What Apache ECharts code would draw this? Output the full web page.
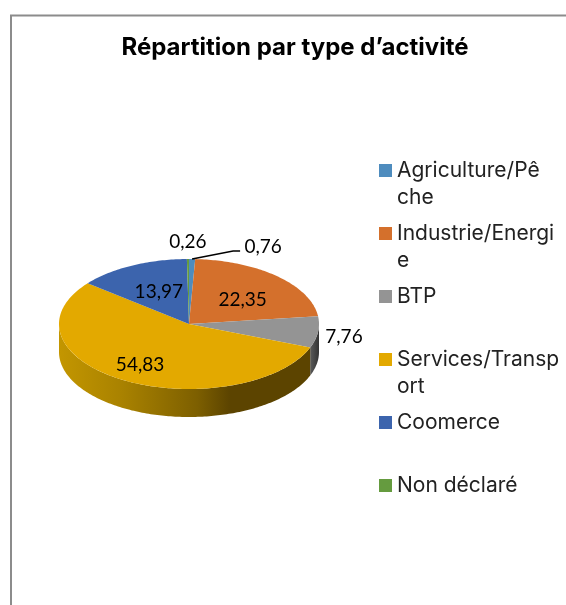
<!DOCTYPE html>
<html><head><meta charset="utf-8">
<style>html,body{margin:0;padding:0;background:#fff}#c{width:566px;height:605px}</style>
<script src="https://cdn.jsdelivr.net/npm/echarts@6/dist/echarts.min.js"></script>
</head><body><div id="c"></div>
<script>
const titleText = "Répartition par type d’activité";
const categories = ["Agriculture/Pêche","Industrie/Energie","BTP","Services/Transport","Coomerce","Non déclaré"];
const legendLines = [["Agriculture/Pê","che"],["Industrie/Energi","e"],["BTP",""],["Services/Transp","ort"],["Coomerce",""],["Non déclaré",""]];
const values = [0.76,22.35,7.76,54.83,13.97,0.26];
const colors = ["#4E8CBE","#D4702C","#949494","#E3A900","#3C64AD","#659B3F"];
const wallStops = [
  [[0,"#2f5f85"],[1,"#2f5f85"]],
  [[0,"#7a3f18"],[1,"#7a3f18"]],
  [[0,"#5a5a5a"],[1,"#333333"]],
  [[0,"#c39600"],[0.25,"#a98200"],[0.55,"#7d5f00"],[0.68,"#5c4400"],[1,"#5c4400"]],
  [[0,"#264070"],[1,"#264070"]],
  [[0,"#3f6227"],[1,"#3f6227"]]
];
const labelOffsets = [[71,-12],[-35,23],[26,5],[16,-15],[27,26],[0,-17]];
const pie = {cx:189, cy:324, rx:130, ry:65, depth:28};
const total = values.reduce((a,b)=>a+b,0);
const rad = d => d*Math.PI/180;
const rim = (deg,extra=0) => [pie.cx+pie.rx*Math.sin(rad(deg)), pie.cy-pie.ry*Math.cos(rad(deg))+extra];
function arc(a0,a1,extra=0){const pts=[];const n=Math.max(2,Math.ceil(a1-a0));for(let i=0;i<=n;i++)pts.push(rim(a0+(a1-a0)*i/n,extra));return pts;}

function makeSeries(idx){
  return {
    type:'custom', name:categories[idx], coordinateSystem:'none', clip:false,
    itemStyle:{color:colors[idx]}, silent:true,
    data:[[values[idx]]],
    renderItem(params,api){
      const before = values.slice(0,idx).reduce((a,b)=>a+b,0);
      const a0 = before/total*360, a1 = a0+api.value(0)/total*360, mid=(a0+a1)/2;
      const children=[];
      const w0=Math.max(a0,90), w1=Math.min(a1,270);
      if(w1>w0){
        const top=arc(w0,w1), bottom=arc(w0,w1,pie.depth).reverse();
        children.push({type:'polygon',shape:{points:top.concat(bottom)},
          style:{fill:new echarts.graphic.LinearGradient(0,0,1,0,wallStops[idx].map(s=>({offset:s[0],color:s[1]})))}});
      }
      children.push({type:'polygon',shape:{points:[[pie.cx,pie.cy]].concat(arc(a0,a1))},style:{fill:colors[idx]}});
      const p=rim(mid), off=labelOffsets[idx];
      if(idx===0){
        children.push({type:'polyline',shape:{points:[p,[p[0]+41,p[1]-8],[p[0]+48,p[1]-8]]},style:{fill:'none',stroke:'#000',lineWidth:1.5}});
      }
      children.push({type:'text',style:{text:api.value(0).toFixed(2).replace('.',','),x:p[0]+off[0],y:p[1]+off[1],
        align:'center',verticalAlign:'middle',fill:'#000',font:'19px Lato'}});
      return {type:'group',children};
    }
  };
}
const chart=echarts.init(document.getElementById('c'),null,{renderer:'canvas'});
chart.setOption({
  animation:false,
  backgroundColor:'#fff',
  title:{text:titleText,left:290,top:31,textAlign:'center',textStyle:{fontFamily:'Inter',fontWeight:'bold',fontSize:24,color:'#000'}},
  legend:{orient:'vertical',left:374,top:125,itemWidth:13,itemHeight:13,itemGap:-18,icon:'rect',selectedMode:false,
    data:categories,
    formatter:name=>{const l=legendLines[categories.indexOf(name)];return ' \n'+l[0]+'\n'+(l[1]||' ');},
    textStyle:{fontFamily:'Inter',fontSize:21,color:'#222',lineHeight:27}},
  graphic:[
    {type:'polyline',silent:true,shape:{points:[[11,605],[11,15.5],[566,15.5]]},style:{fill:'none',stroke:'#8c8c8c',lineWidth:2}}
  ],
  series:categories.map((_,i)=>makeSeries(i))
});
</script></body></html>
